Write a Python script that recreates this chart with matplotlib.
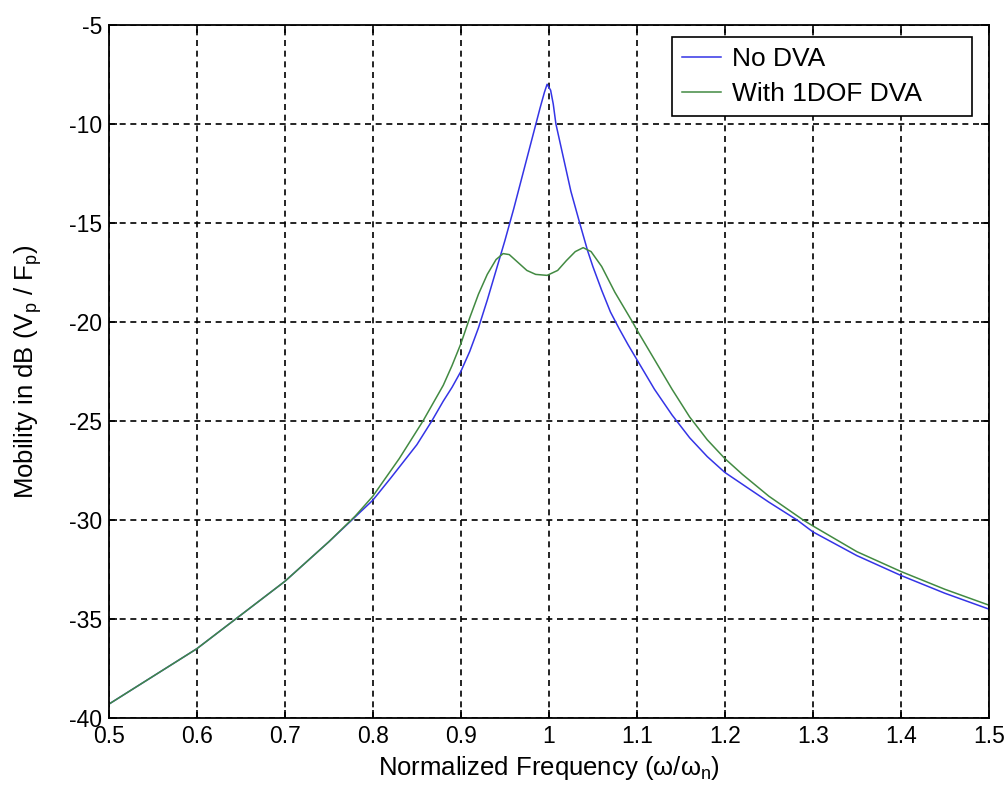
import matplotlib
matplotlib.use("Agg")
import matplotlib.pyplot as plt

plt.rcParams["font.family"] = ["Liberation Sans", "DejaVu Sans"]
plt.rcParams["mathtext.fontset"] = "custom"
plt.rcParams["mathtext.rm"] = "Liberation Sans"
plt.rcParams["mathtext.it"] = "Liberation Sans"
plt.rcParams["axes.unicode_minus"] = False

# No DVA (single-DOF plate mobility)
freq_no_dva = [0.50, 0.55, 0.60, 0.65, 0.70, 0.75, 0.80, 0.82, 0.85, 0.867,
               0.88, 0.89, 0.90, 0.91, 0.92, 0.93, 0.94, 0.95, 0.96, 0.97,
               0.98, 0.99, 0.995, 0.998, 1.002, 1.005, 1.008, 1.015, 1.025,
               1.035, 1.044, 1.05, 1.06, 1.07, 1.08, 1.09, 1.10, 1.12, 1.14,
               1.16, 1.18, 1.20, 1.25, 1.282, 1.30, 1.35, 1.40, 1.45, 1.50]
mob_no_dva = [-39.3, -37.9, -36.5, -34.8, -33.1, -31.1, -29.0, -27.9, -26.2, -25.0,
              -24.0, -23.3, -22.5, -21.5, -20.3, -18.9, -17.4, -15.9, -14.3, -12.6,
              -10.9, -9.2, -8.4, -8.0, -8.3, -9.0, -10.0, -11.4, -13.4,
              -15.0, -16.4, -17.2, -18.4, -19.5, -20.35, -21.15, -21.9, -23.4, -24.7,
              -25.85, -26.8, -27.6, -29.1, -30.0, -30.6, -31.8, -32.8, -33.7, -34.5]

# With 1DOF DVA
freq_dva = [0.50, 0.55, 0.60, 0.65, 0.70, 0.75, 0.78, 0.80, 0.811, 0.83,
            0.857, 0.88, 0.89, 0.90, 0.91, 0.92, 0.93, 0.94, 0.948, 0.955,
            0.965, 0.975, 0.985, 0.998, 1.01, 1.02, 1.03, 1.039, 1.048, 1.06,
            1.075, 1.095, 1.10, 1.12, 1.14, 1.16, 1.18, 1.20, 1.22, 1.25,
            1.289, 1.30, 1.35, 1.40, 1.45, 1.50]
mob_dva = [-39.3, -37.9, -36.5, -34.8, -33.1, -31.1, -29.8, -28.8, -28.1, -26.9,
           -25.0, -23.2, -22.2, -21.1, -19.8, -18.6, -17.6, -16.85, -16.55, -16.6,
           -17.0, -17.4, -17.6, -17.65, -17.4, -16.9, -16.45, -16.25, -16.45, -17.2,
           -18.5, -20.0, -20.4, -21.9, -23.4, -24.8, -25.95, -26.9, -27.7, -28.8,
           -30.0, -30.3, -31.6, -32.6, -33.5, -34.3]

xticks = [0.5, 0.6, 0.7, 0.8, 0.9, 1.0, 1.1, 1.2, 1.3, 1.4, 1.5]
xtick_labels = ["0.5", "0.6", "0.7", "0.8", "0.9", "1", "1.1", "1.2", "1.3", "1.4", "1.5"]
yticks = [-40, -35, -30, -25, -20, -15, -10, -5]

fig = plt.figure(figsize=(10.08, 7.94), dpi=100)
ax = fig.add_axes([0.108, 0.0957, 0.873, 0.873])

ax.plot(freq_no_dva, mob_no_dva, color="#3434e6", lw=1.1, label="No DVA")
ax.plot(freq_dva, mob_dva, color="#428a42", lw=1.1, label="With 1DOF DVA")

ax.set_xlim(0.5, 1.5)
ax.set_ylim(-40, -5)
ax.set_xticks(xticks)
ax.set_xticklabels(xtick_labels)
ax.set_yticks(yticks)
ax.set_yticklabels([str(v) for v in yticks])

ax.grid(True, color="black", linestyle=(0, (3.6, 2.8)), lw=1.2)
ax.tick_params(direction="in", length=6, width=1.2, labelsize=16.5,
               top=True, right=True, pad=5)
for s in ax.spines.values():
    s.set_linewidth(1.3)

ax.set_xlabel(r"Normalized Frequency ($\omega$/$\omega_n$)", fontsize=18.5, labelpad=4)
ax.set_ylabel(r"Mobility in dB (V$_p$ / F$_p$)", fontsize=18.5, labelpad=18)

# MATLAB-style legend box: stretched to the reference width, free space on the right
leg = ax.legend(loc="upper right", bbox_to_anchor=(0.6398, 0.5, 0.3409, 0.4827),
                mode="expand", borderaxespad=0, fontsize=19, fancybox=False,
                framealpha=1, edgecolor="black", handlelength=1.5,
                handletextpad=0.38, borderpad=0.38, labelspacing=0.42)
leg.get_frame().set_linewidth(1.2)

fig.savefig("out.png", dpi=100)
